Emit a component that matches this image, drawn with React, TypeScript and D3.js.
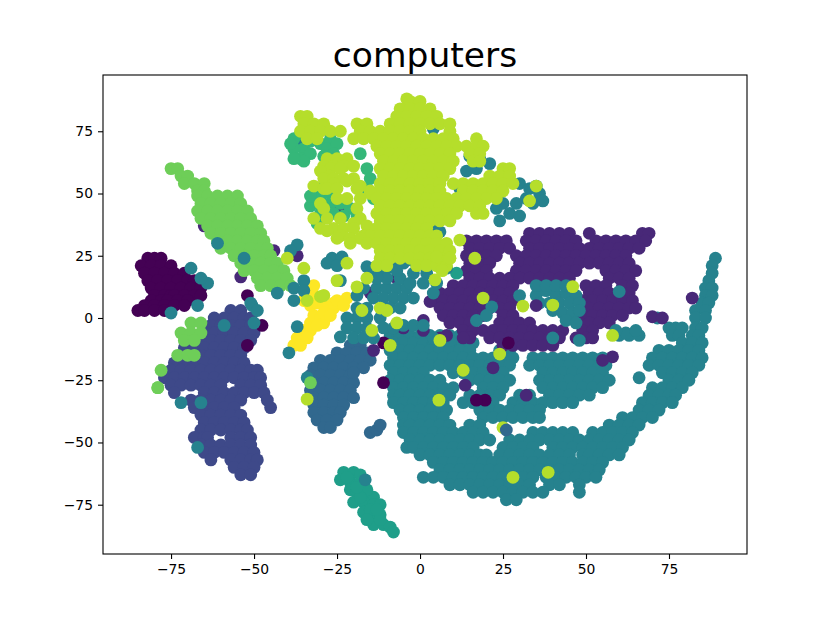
import React, { useEffect, useRef } from "react";
import * as d3 from "d3";

type Row = [number, number[]]; // y value, then the x values read along that row
type Pt = [number, number];

const settings = {
  width: 830,
  height: 623,
  margin: { top: 75, right: 83, bottom: 69, left: 103 },
  radius: 6.4,
};

const xDomain = [-95.5, 98.5];
const yDomain = [-94.8, 97.6];
const xTicks = [-75, -50, -25, 0, 25, 50, 75];
const yTicks = [-75, -50, -25, 0, 25, 50, 75];

const colors = ["#440154", "#482878", "#3e4989", "#31688e", "#26828e", "#1f9e89", "#35b779", "#6ece58", "#b5de2b", "#fde725"];

const class4Rows: Row[] = [
  [24, [89]], [21, [88]], [18, [88]], [15, [87]], [12, [86, 88]], [9, [86, 88]], [6, [85, 87]], [3, [83, 86]], [0, [83, 86]],
  [-4, [75, 77, 79, 83, 85]],
  [-7, [-9, -6, -3, 0, 3, 6, 9, 12, 15, 60, 63, 66, 76, 78, 82, 84]],
  [-10, [-8, -5, -2, 1, 4, 7, 10, 13, 16, 79, 82, 85]],
  [-13, [-9, -6, -3, 0, 3, 6, 9, 12, 15, 24, 27, 72, 75, 78, 81, 84]],
  [-16, [-8, -5, -2, 1, 4, 7, 10, 13, 16, 19, 22, 25, 28, 34, 37, 40, 43, 46, 49, 52, 55, 70, 73, 76, 79, 82, 85]],
  [-19, [-9, -6, -3, 0, 3, 6, 9, 12, 15, 18, 21, 24, 27, 33, 36, 39, 42, 45, 48, 51, 54, 56, 69, 72, 75, 78, 81, 84]],
  [-22, [-8, -5, -2, 1, 10, 13, 16, 19, 22, 25, 37, 40, 43, 46, 49, 52, 55, 73, 76, 79, 82]],
  [-24, [66]],
  [-25, [-9, -6, -3, 0, 3, 6, 15, 18, 21, 24, 27, 36, 39, 42, 45, 48, 51, 54, 57, 75, 78, 81]],
  [-28, [-8, -5, -2, 1, 4, 7, 10, 19, 22, 25, 37, 40, 43, 46, 49, 52, 55, 70, 73, 76, 79]],
  [-31, [-8, -6, -3, 0, 3, 6, 9, 15, 18, 21, 24, 30, 33, 39, 42, 45, 48, 51, 69, 72, 75, 77]],
  [-34, [-8, -5, -2, 1, 4, 7, 13, 16, 19, 22, 28, 31, 34, 37, 40, 43, 46, 67, 70, 73, 76]],
  [-37, [-6, -3, 0, 3, 6, 8, 18, 21, 24, 27, 30, 33, 36, 66, 69, 72]],
  [-40, [-5, -2, 1, 4, 7, 19, 22, 25, 28, 31, 34, 36, 61, 64, 67, 70]],
  [-43, [-5, -3, 0, 3, 6, 9, 15, 18, 57, 60, 63, 66]],
  [-46, [-5, -2, 1, 4, 7, 10, 13, 16, 19, 34, 37, 40, 43, 46, 52, 55, 58, 61, 64]],
  [-49, [-3, 0, 3, 6, 9, 12, 15, 18, 21, 27, 30, 33, 36, 39, 42, 45, 48, 51, 54, 57, 60, 63]],
  [-52, [-4, -2, 1, 4, 7, 10, 13, 16, 25, 28, 31, 34, 40, 43, 46, 49, 52, 55, 58, 61]],
  [-55, [0, 3, 6, 9, 12, 15, 18, 20, 24, 27, 30, 33, 36, 39, 42, 45, 49, 51, 54, 57, 60]],
  [-58, [4, 7, 10, 13, 16, 19, 22, 25, 28, 31, 34, 37, 40, 43, 46, 49, 52, 55]],
  [-61, [6, 9, 12, 15, 18, 21, 24, 27, 30, 33, 36, 39, 42, 45, 48, 51, 54]],
  [-64, [1, 4, 7, 10, 13, 16, 19, 22, 25, 28, 31, 34, 38, 41, 44, 47, 50, 53]],
  [-67, [9, 12, 15, 18, 21, 24, 27, 30, 33, 39, 42, 48]],
  [-70, [16, 19, 22, 25, 28, 31, 34, 37, 48]],
  [-73, [26, 29]],
];

const class1Rows: Row[] = [
  [34, [33, 36, 39, 42, 45, 51, 67, 69]],
  [31, [14, 17, 20, 23, 26, 32, 35, 38, 41, 44, 47, 53, 56, 59, 62, 65, 68]],
  [28, [15, 18, 21, 24, 27, 33, 36, 39, 42, 45, 48, 51, 54, 57, 60, 63, 66]],
  [25, [14, 17, 20, 23, 29, 32, 35, 38, 41, 44, 47, 50, 53, 56, 59, 62]],
  [22, [15, 18, 21, 30, 33, 36, 39, 42, 45, 48, 51, 54, 57, 60, 63]],
  [19, [14, 17, 20, 29, 32, 35, 38, 41, 44, 47, 56, 59, 62, 65]],
  [16, [15, 18, 21, 24, 27, 30, 33, 36, 39, 42, 45, 57, 60, 63]],
  [13, [10, 13, 16, 19, 22, 25, 28, 50, 53, 56, 61, 64]],
  [10, [6, 9, 12, 15, 18, 21, 24, 27, 51, 54, 57, 60, 63]],
  [7, [4, 7, 10, 13, 16, 19, 22, 25, 28, 49, 52, 55, 58, 61, 64]],
  [4, [6, 9, 12, 15, 18, 21, 24, 27, 51, 54, 57, 60, 63, 65]],
  [1, [7, 10, 13, 16, 19, 25, 28, 49, 52, 55, 58, 61]],
  [-2, [9, 12, 15, 24, 27, 30, 33, 48, 51, 54, 57]],
  [-5, [1, 13, 16, 19, 22, 25, 28, 31, 34, 37, 40, 43, 49, 52]],
  [-8, [6, 15, 21, 24, 27, 30, 33, 36, 39, 42, 47, 50, 52]],
  [-11, [25, 28, 31, 34, 37, 40]],
];

const class4OverPurple: Pt[] = [
  [35, 9], [38, 11], [41, 9], [44, 10], [47, 9], [36, 6], [39, 6], [42, 6], [45, 6], [48, 6], [40, 3], [43, 2], [46, 2], [48, 3],
  [44, -1], [47, -2], [21.6, 4.5], [30, 9], [60, 10.6], [17, -1], [20, 1], [40, -8], [48, -9], [71.5, 0], [4, -8], [9, -9],
  [62, -6], [65, -5], [59, -5],
];

const class2Rows: Row[] = [
  [3, [-57, -54]],
  [0, [-62, -59, -56, -53, -51]],
  [-3, [-63, -60, -57, -54, -51]],
  [-6, [-65, -62, -59, -56, -53, -50]],
  [-9, [-69, -66, -63, -60, -57, -54, -51]],
  [-12, [-71, -68, -65, -62, -59, -56, -53]],
  [-15, [-72, -69, -66, -63, -60, -57, -54]],
  [-18, [-74, -71, -68, -65, -62, -59, -56, -53]],
  [-21, [-75, -72, -69, -66, -63, -60, -57, -54, -51, -49]],
  [-24, [-77, -74, -71, -68, -65, -62, -59, -56, -53, -50, -48]],
  [-27, [-75, -72, -69, -66, -63, -60, -54, -51, -48]],
  [-30, [-74, -65, -62, -59, -56, -53, -50, -47]],
  [-33, [-69, -66, -63, -60, -57, -54, -46]],
  [-36, [-68, -65, -62, -59, -56, -45]],
  [-39, [-66, -63, -60, -57, -54]],
  [-42, [-65, -62, -59, -56, -53]],
  [-45, [-66, -63, -60, -57, -54, -52]],
  [-48, [-68, -65, -64, -57, -54, -51]],
  [-51, [-66, -63, -60, -57, -54, -51]],
  [-54, [-65, -62, -59, -56, -53, -50]],
  [-57, [-63, -57, -54, -51, -49]],
  [-60, [-56, -53, -50]],
  [-63, [-54, -51]],
];

const class3Rows: Row[] = [
  [-11, [-21, -18]],
  [-14, [-25, -22, -19, -16]],
  [-17, [-30, -27, -24, -21, -18, -15]],
  [-20, [-32, -29, -26, -23, -20, -17]],
  [-23, [-33, -30, -27, -24, -21]],
  [-26, [-32, -29, -26, -23, -20]],
  [-29, [-33, -30, -27, -24, -21]],
  [-32, [-32, -29, -26, -23, -20]],
  [-35, [-32, -29, -26, -23]],
  [-38, [-32, -29, -26, -24]],
  [-41, [-31, -28, -25]],
  [-44, [-29, -27]],
  [-46, [-15]],
  [-45, [-13]],
  [-43, [-12]],
];

const class5Points: Pt[] = [
  [-23, -62], [-20, -62], [-18, -63], [-24, -65], [-21, -66], [-18, -66], [-21, -69], [-19, -70], [-16, -71], [-14, -72],
  [-20, -74], [-17, -74], [-14, -75], [-12, -75], [-17, -78], [-14, -79], [-12, -79], [-14, -83], [-11, -83], [-9, -84], [-8, -86],
  [-16, -69], [-18, -72], [-15, -77], [-12, -81], [-16, -81], [-22, -64], [-19, -68], [-13, -77], [11, 18],
];

const class7Rows: Row[] = [
  [60, [-75, -73]],
  [57, [-72, -70]],
  [54, [-71, -68, -65]],
  [51, [-67, -65]],
  [49, [-67, -64, -61, -58, -55]],
  [46, [-66, -63, -60, -57, -54]],
  [43, [-67, -64, -61, -58, -55, -52]],
  [40, [-66, -63, -60, -57, -54, -51]],
  [37, [-64, -61, -58, -55, -52, -49]],
  [34, [-63, -60, -57, -54, -51, -48]],
  [31, [-61, -58, -55, -52, -49, -47]],
  [28, [-60, -57, -54, -51, -48, -46]],
  [25, [-56, -53, -50, -47, -45]],
  [22, [-54, -51, -48, -45, -43]],
  [19, [-53, -50, -47, -44, -41]],
  [16, [-49, -46, -43, -40]],
  [13, [-48, -45, -42, -39]],
  [-2, [-69, -66]],
  [-6, [-72, -69, -66]],
  [-9, [-71, -68]],
  [-15, [-73, -70, -68]],
  [-21, [-78]],
  [-28, [-79]],
];

const class0Rows: Row[] = [
  [24, [-82, -80, -78]],
  [21, [-84, -81, -78, -75]],
  [18, [-83, -80, -77, -74, -71]],
  [15, [-82, -79, -76, -73, -70, -68]],
  [12, [-81, -78, -75, -72, -69, -66]],
  [9, [-80, -77, -75, -74, -71, -68, -66]],
  [7, [-81, -78, -76, -73, -70]],
  [5, [-83, -80, -77, -74, -71]],
  [3, [-85, -83, -80, -77]],
];

const class9Points: Pt[] = [
  [-38, -11], [-37, -8], [-35, -5], [-33, -2], [-32, 1], [-30, 0], [-29, -2], [-28, 3], [-26, 4], [-24, 6], [-22, 8],
  [-33, 5], [-31, 6], [-29, 5], [-26, 6], [-35, 7], [-32, 9], [-29, 9], [-32, 13], [-35, -8], [-36, -11], [-33, -5],
  [-36, -6], [-34, -8], [-31, -3], [-29, 2], [-27, 1], [-25, 7], [-23, 5], [-34, 10],
];

const class4Upper: Pt[] = [
  [-13, 12], [-10, 12], [-7, 12], [-4, 12], [-14, 8], [-11, 8], [-8, 8], [-5, 8], [-2, 8], [-19, 4], [-16, 4], [-9, 4], [-6, 4],
  [-19, 0], [-16, 0], [-12, 0], [-22, 0], [-22, -4], [-19, -4], [-16, -4], [-11, -4], [-8, -4], [-5, -3], [-2, -3], [1, -3], [-20, -8], [-17, -8], [-14, -8],
  [35, 13], [38, 13], [41, 13], [44, 13],
  [30, 54], [33, 52], [36, 50], [37, 47], [32, 48], [29, 46], [25, 46], [23, 44], [27, 42], [30, 41], [24, 39], [34, 46], [35, 53],
  [15, 65], [18, 64], [21, 62], [17, 60], [14, 59], [12, 52],
  [-26.5, 24], [-23.5, 24.5], [-28, 22], [-25, 21], [-37, 29.4], [-39, 27], [-35, 15], [-38, 7], [-24, 15], [-37, -3.5], [-24, -7.6], [-39.5, -14],
  [-43, 10], [-38, 12], [-35, 11], [-69, 20], [-64, 14], [-66, 16], [-67, 5], [-75, 2], [-53, 24], [-61, 30], [-51, 6], [-50, -2], [-50.6, 5], [-49, 3],
  [-67, -52], [-66, -34], [-72, -34], [-59, -3], [-34, -24],
  [-7, 27], [-8, 22], [-5, 22], [-2, 23], [0.5, 22], [-6, 16], [-12, 19], [-16, 20.6], [5, 26], [7, 24.6], [2, 24.6], [4.5, 37], [6, 34.6], [-4, 34.6],
  [-14, 20], [-10, 20], [-2, 18], [2, 18], [-3, 14], [1, 14], [-10, 16], [5, 14], [4, 10], [8, 20], [-13, 16], [-7, 19], [-19, 9], [-17, 12],
  [-37, 70], [-1.5, 76], [4, 76], [17.5, 47], [-3, 60], [4, 44],
  [-16.5, -65],
];

const class6Points: Pt[] = [
  [-38, 72], [-35, 68], [-38, 68], [-36, 64], [-33, 66], [-30, 70], [-27, 72], [-28, 68], [-25, 70], [-29, 65], [-26, 66], [-36, 74], [-33, 71], [-39, 70], [-35, 63], [-38, 64],
  [-30, 52], [-32, 48], [-33, 45], [-30, 48], [-27, 46], [-24, 46], [-21, 44], [-19, 41], [-30, 42], [-26, 42], [-23, 41], [-31, 38], [-27, 50], [-33, 49], [-30, 45],
  [-16, 60], [-15, 56], [-16, 52], [-14, 48], [-14, 34], [-11, 35], [-1, 66], [-18, 66],
];

const class8Rows: Row[] = [
  [88, [-4]],
  [87, [-3, 0]],
  [84, [-6, -3, 0, 3]],
  [81, [-36, -34, -7, -4, -1, 2, 5]],
  [78, [-35, -32, -29, -19, -16, -9, -6, -3, 0, 3, 6, 9]],
  [75, [-36, -33, -30, -27, -24, -18, -15, -12, -9, -6, -3, 0, 9]],
  [72, [-34, -31, -20, -17, -14, -11, -8, -5, -2, 1, 4, 7, 10, 17]],
  [69, [-13, -10, -7, -4, -1, 2, 5, 8, 11, 14, 17, 19]],
  [66, [-12, -9, -6, -3, 0, 3, 6, 9, 15, 18]],
  [64, [-28, -25, -22]],
  [63, [-11, -8, -5, -2, 1, 4, 7, 10, 16, 18]],
  [61, [-29, -26, -23, -20]],
  [60, [-27, -24, -12, -9, -6, -3, 0, 3, 6, 9, 25, 27]],
  [59, [-30]],
  [57, [-27, -11, -8, -5, -2, 1, 4, 7, 21, 24, 27]],
  [56, [-29, -26, -23, -20]],
  [55, [-22]],
  [54, [-26, -12, -9, -6, -3, 0, 3, 6, 10, 13, 16, 19, 22, 25, 28]],
  [53, [-32, -18, 35]],
  [52, [-29, -28, -25, -19]],
  [51, [-15, -12, -9, -6, -3, 0, 3, 6, 13, 16, 19, 22, 25]],
  [50, [-15]],
  [48, [-25, -22, -18, -13, -10, -7, -4, -1, 2, 5, 8, 11, 14, 17, 20, 23]],
  [47, [33]],
  [46, [-30]],
  [45, [-12, -9, -6, -3, 0, 3, 6, 9, 12, 15, 18]],
  [44, [-29, -19]],
  [42, [-13, -10, -7, -4, -1, 2, 5, 8, 11, 17, 19]],
  [40, [-32, -28, -24, -18]],
  [39, [-12, -9, -6, -3, 0, 3, 6, 9]],
  [38, [-20]],
  [37, [-16]],
  [36, [-30, -26, -23, -20, -13, -10, -7, -4, -1, 2]],
  [35, [-28]],
  [33, [-24, -17, -15, -12, -9, -6, -3, 0, 3, 5]],
  [32, [-21, -18]],
  [30, [-16, -13, -10, -7, -4, -1, 2, 5, 8]],
  [27, [-12, -9, -6, -3, 0, 3, 6, 9]],
  [24, [-12, -9, -6, -3, 0, 3, 6, 9]],
  [21, [-13, -10, -1, 2, 5, 8]],
];

const class8Strays: Pt[] = [
  [5, 24.6], [8.5, 24], [6.5, 19.3], [4.5, 15.3], [12, 31.3], [16.5, 24], [19, 8], [31, 4.8], [40, 5.2], [46, 12.6], [58, -7],
  [-40, 24], [-35, 20], [-21, 30], [-25, 32], [-22, 22], [-25, 15], [-19, 12.5], [-30, 8.6], [-34, 7], [-29, 9], [-12, 4], [-17.5, 3], [-14.5, -5], [-16, 16],
  [-10, 3], [-7, -2], [-9, -11], [24, -14.5], [13, -21], [6, -9], [25, -44], [28, -64], [38.6, -62], [5.7, -33], [-34, -32.6], [6.7, 19], [9, 24],
];

const class1Strays: Pt[] = [
  [-65, 37], [-56, 40], [-44, 27], [-54, 16.5], [35, 5], [82, 8], [70, 0.5], [73, 0], [58, -15.6], [55, -17],
  [13.6, -27], [22, -20], [32, -31], [13, -8], [8, -7], [-24, 44], [-2, 56], [-37, 25],
  [-15, 10], [-7, 16], [3, 6.6], [1, -1], [-5, -4], [-14, -13],
];

const class0Strays: Pt[] = [
  [26.6, -10], [-11, -10], [-11, -26], [19.6, -33], [17, -33], [-47.6, -3], [-52, -11], [-52, 9],
];

const class3Strays: Pt[] = [[26, -45], [-20, -22]];
const class7Strays: Pt[] = [[-33, -26], [-79, -28]];

const fromRows = (rows: Row[]): Pt[] =>
  rows.flatMap(([y, xs]) => xs.map((x) => [x, y] as Pt));

// painted back to front, the strays go last so they sit on top of the big blobs
const layers: { label: number; points: Pt[] }[] = [
  { label: 4, points: fromRows(class4Rows) },
  { label: 1, points: fromRows(class1Rows) },
  { label: 4, points: class4OverPurple },
  { label: 2, points: fromRows(class2Rows) },
  { label: 3, points: fromRows(class3Rows) },
  { label: 5, points: class5Points },
  { label: 1, points: class1Strays },
  { label: 0, points: class0Strays },
  { label: 7, points: fromRows(class7Rows) },
  { label: 0, points: fromRows(class0Rows) },
  { label: 9, points: class9Points },
  { label: 4, points: class4Upper },
  { label: 6, points: class6Points },
  { label: 8, points: fromRows(class8Rows) },
  { label: 8, points: class8Strays },
  { label: 3, points: class3Strays },
  { label: 7, points: class7Strays },
];

export default function App() {
  const svgRef = useRef<SVGSVGElement | null>(null);
  useEffect(() => {
    const svg = d3.select(svgRef.current);
    svg.selectAll("*").remove();
    const { width, height, margin, radius } = settings;

    const x = d3.scaleLinear().domain(xDomain).range([margin.left, width - margin.right]);
    const y = d3.scaleLinear().domain(yDomain).range([height - margin.bottom, margin.top]);

    svg
      .append("g")
      .selectAll("g")
      .data(layers)
      .join("g")
      .attr("fill", (d) => colors[d.label])
      .selectAll("circle")
      .data((d) => d.points)
      .join("circle")
      .attr("cx", (d) => x(d[0]))
      .attr("cy", (d) => y(d[1]))
      .attr("r", radius);

    svg
      .append("rect")
      .attr("x", margin.left)
      .attr("y", margin.top)
      .attr("width", width - margin.left - margin.right)
      .attr("height", height - margin.top - margin.bottom)
      .attr("fill", "none")
      .attr("stroke", "black")
      .attr("stroke-width", 1.1);

    const bottom = svg
      .append("g")
      .attr("transform", `translate(0,${height - margin.bottom})`)
      .call(d3.axisBottom(x).tickValues(xTicks).tickSize(5).tickPadding(5).tickSizeOuter(0));
    const left = svg
      .append("g")
      .attr("transform", `translate(${margin.left},0)`)
      .call(d3.axisLeft(y).tickValues(yTicks).tickSize(5).tickPadding(5).tickSizeOuter(0));

    [bottom, left].forEach((axis) => {
      axis.select(".domain").remove();
      axis.selectAll("line").attr("stroke-width", 1.1);
      axis.selectAll("text").attr("font-family", "DejaVu Sans").attr("font-size", 13.9).attr("fill", "black");
    });

    svg
      .append("text")
      .attr("x", (margin.left + width - margin.right) / 2)
      .attr("y", 67)
      .attr("text-anchor", "middle")
      .attr("font-family", "DejaVu Sans")
      .attr("font-size", 34.5)
      .text("computers");
  }, []);

  return (
    <svg
      ref={svgRef}
      width={settings.width}
      height={settings.height}
      style={{ position: "absolute", left: 0, top: 0, background: "white" }}
    ></svg>
  );
}
